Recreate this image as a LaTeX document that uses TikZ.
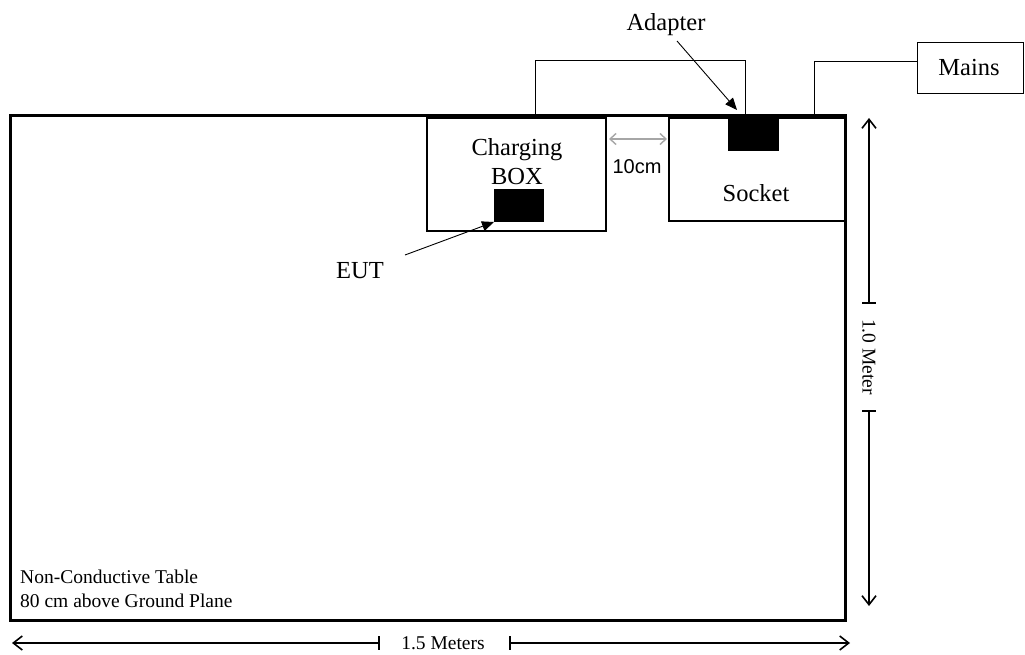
\documentclass[tikz,border=0pt]{standalone}
\usepackage{fontspec}
\setmainfont{Liberation Serif}
\newfontfamily\arialfont{Liberation Sans}
\usetikzlibrary{arrows.meta}
\begin{document}
\begin{tikzpicture}[x=1pt,y=-1pt,
  lbl/.style={font=\fontsize{24.5}{28}\selectfont, inner sep=0pt, anchor=base},
  small/.style={font=\fontsize{19.5}{23}\selectfont, inner sep=0pt},
  box/.style={draw, line width=1.2pt, inner sep=0pt},
  wire/.style={line width=1pt},
  pointer/.style={line width=0.9pt, -{Triangle[length=12pt,width=10pt]}},
  barb/.tip={Straight Barb[length=9pt,width=14pt,line width=1.6pt]},
  dimline/.style={line width=1.1pt},
  tick/.style={line width=1.1pt}]
\useasboundingbox (0,0) rectangle (1025,655);
% table
\draw[line width=3pt] (10,116) rectangle (845,620);
% charging box
\draw[line width=1.2pt] (427,118) rectangle (606,231);
\node[lbl] (cbox) at (517,156) {Charging};
\node[lbl] (cbox2) at (517,185) {BOX};
\fill (494,189) rectangle (544,222);
\coordinate (eut) at (494,222);
% socket
\draw[line width=1.2pt] (669,118) rectangle (845,221);
\node[lbl] (sock) at (756,201) {Socket};
\fill (728,116) rectangle (779,151);
\coordinate (adp) at (737,110);
% wires
\draw[wire] (535,116) -- (535,61) -- (745,61) -- (745,116);
\node[box, minimum width=106pt, minimum height=51pt, anchor=north west] (mains) at (917,42) {};
\node[lbl] (mainstxt) at (969,76) {Mains};
\draw[wire] (814,116) -- (814,62) -- (mains.west |- 0,62);
% labels with pointers
\node[lbl] (adapter) at (666,31) {Adapter};
\draw[pointer] (677,41) -- (adp);
\node[lbl] (eutl) at (360,278) {EUT};
\draw[pointer] (405,255) -- (eut);
% 10cm
\draw[gray!70, line width=1.4pt, {Straight Barb[length=6pt,width=11pt]}-{Straight Barb[length=6pt,width=11pt]}] (609,139) -- (667,139);
\node[font=\arialfont\fontsize{20}{22}\selectfont, inner sep=0pt, anchor=base] (ten) at (637,174) {10cm};
% table text
\node[small, anchor=base west] (t1) at (20,583) {Non-Conductive Table};
\node[small, anchor=base west] (t2) at (20,607) {80 cm above Ground Plane};
% vertical dimension
\node[small, rotate=-90] (vm) at (869,357) {1.0 Meter};
\draw[dimline, barb-] (869,118) -- (869,303);
\draw[dimline, -barb] (869,411) -- (869,606);
\draw[tick] (862,303) -- (876,303);
\draw[tick] (862,411) -- (876,411);
% horizontal dimension
\node[small, anchor=base] (hm) at (443,649) {1.5 Meters};
\draw[dimline, barb-] (12,643) -- (379,643);
\draw[dimline, -barb] (510,643) -- (850,643);
\draw[tick] (379,636) -- (379,650);
\draw[tick] (510,636) -- (510,650);
\end{tikzpicture}
\end{document}
